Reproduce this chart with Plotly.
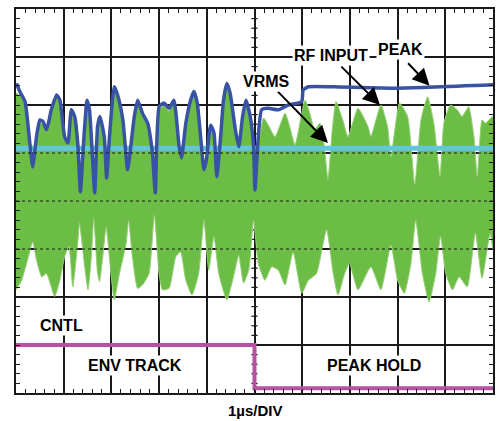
import plotly.graph_objects as go

# time in us (1 us/div), amplitude in divisions
peak_t = [0.01, 0.08, 0.19, 0.29, 0.35, 0.43, 0.50, 0.57, 0.64, 0.74, 0.85, 0.92, 1.02, 1.09,
          1.16, 1.23, 1.30, 1.35, 1.42, 1.49, 1.54, 1.61, 1.65, 1.71, 1.76, 1.85, 1.90, 1.96,
          2.06, 2.13, 2.24, 2.34, 2.39, 2.48, 2.55, 2.65, 2.76, 2.86, 2.92, 3.00, 3.10, 3.21,
          3.31, 3.42, 3.47, 3.56, 3.66, 3.73, 3.80, 3.87, 3.94, 3.99, 4.08, 4.15, 4.21, 4.29,
          4.35, 4.42, 4.49, 4.60, 4.67, 4.75, 4.82, 4.91, 4.98, 5.01, 5.08, 5.15, 5.29, 5.50,
          5.71, 5.99, 6.02, 6.13, 6.65, 8.00, 10.0]
peak_v = [2.45, 2.28, 2.07, 1.21, 0.71, 1.34, 1.69, 1.65, 1.48, 1.90, 2.21, 2.10, 1.34, 1.21,
          1.90, 1.76, 1.13, 0.19, 1.27, 2.10, 1.90, 0.79, 0.17, 1.55, 1.76, 1.34, 0.48, 1.34,
          2.38, 2.21, 1.69, 0.65, 1.00, 1.76, 2.10, 1.83, 1.62, 1.00, 0.17, 1.96, 2.04, 1.93,
          2.10, 1.13, 0.90, 1.62, 2.10, 2.28, 2.04, 1.34, 0.65, 0.85, 1.58, 1.42, 0.51, 1.34,
          2.10, 2.45, 2.24, 1.48, 1.13, 1.76, 2.10, 1.76, 1.13, 0.23, 1.34, 1.90, 1.93, 1.90,
          2.00, 2.07, 2.31, 2.38, 2.38, 2.35, 2.42]

rf_top_t = [0.0, 0.08, 0.19, 0.29, 0.35, 0.43, 0.50, 0.57, 0.64, 0.74, 0.85, 0.92, 1.02, 1.09,
            1.16, 1.23, 1.30, 1.35, 1.42, 1.49, 1.54, 1.61, 1.65, 1.71, 1.76, 1.85, 1.90, 1.96,
            2.06, 2.13, 2.24, 2.34, 2.39, 2.48, 2.55, 2.65, 2.76, 2.86, 2.92, 3.00, 3.10, 3.21,
            3.31, 3.42, 3.47, 3.56, 3.66, 3.73, 3.80, 3.87, 3.94, 3.99, 4.08, 4.15, 4.21, 4.29,
            4.35, 4.42, 4.49, 4.60, 4.67, 4.75, 4.82, 4.91, 4.98, 5.05, 5.19, 5.29, 5.43, 5.64,
            5.73, 5.85, 6.06, 6.17, 6.26, 6.37, 6.46, 6.54, 6.63, 6.71, 6.85, 6.96, 7.17, 7.38,
            7.44, 7.65, 7.79, 7.86, 8.04, 8.21, 8.36, 8.49, 8.63, 8.76, 8.89, 8.97, 9.11, 9.25,
            9.35, 9.49, 9.60, 9.67, 9.77, 9.84, 10.0]
rf_top_v = [2.25, 2.20, 2.00, 1.20, 0.85, 1.30, 1.63, 1.60, 1.43, 1.85, 2.15, 2.04, 1.30, 1.18,
            1.85, 1.70, 1.10, 0.45, 1.22, 2.04, 1.85, 0.85, 0.40, 1.50, 1.70, 1.30, 0.62, 1.30,
            2.30, 2.15, 1.63, 0.72, 1.00, 1.70, 2.04, 1.78, 1.57, 1.00, 0.40, 1.90, 1.98, 1.87,
            2.04, 1.10, 0.92, 1.57, 2.04, 2.22, 1.98, 1.30, 0.72, 0.88, 1.52, 1.37, 0.60, 1.30,
            2.04, 2.35, 2.18, 1.43, 1.10, 1.70, 2.04, 1.70, 1.10, 1.00, 1.73, 1.58, 1.34, 1.83,
            1.58, 1.17, 2.10, 1.79, 1.48, 1.62, 1.17, 0.45, 1.48, 2.07, 1.69, 1.34, 1.93, 1.55,
            1.34, 2.00, 1.55, 0.92, 2.04, 1.76, 0.35, 1.69, 2.17, 1.62, 0.51, 1.62, 2.00, 1.90,
            1.76, 1.96, 1.34, 0.51, 1.69, 1.62, 1.76]

rf_bot_t = [0.0, 0.12, 0.26, 0.35, 0.43, 0.54, 0.64, 0.81, 0.92, 1.02, 1.11, 1.19, 1.30, 1.33,
            1.44, 1.51, 1.58, 1.63, 1.71, 1.75, 1.82, 1.89, 1.99, 2.06, 2.17, 2.31, 2.36, 2.44,
            2.55, 2.65, 2.79, 2.90, 3.00, 3.07, 3.21, 3.35, 3.45, 3.56, 3.69, 3.83, 3.94, 4.04,
            4.15, 4.25, 4.42, 4.56, 4.67, 4.77, 4.88, 4.98, 5.08, 5.22, 5.36, 5.50, 5.64, 5.81,
            5.99, 6.13, 6.30, 6.51, 6.65, 6.75, 6.89, 6.99, 7.17, 7.44, 7.65, 7.86, 8.00, 8.14,
            8.28, 8.38, 8.52, 8.66, 8.80, 8.90, 9.01, 9.15, 9.29, 9.46, 9.63, 9.77, 9.94, 10.0]
rf_bot_v = [-1.85, -1.65, -1.16, -0.85, -1.23, -1.58, -1.51, -1.99, -1.65, -1.16, -0.95, -1.79,
            -0.81, -0.46, -1.37, -1.85, -1.16, -0.36, -1.51, -1.68, -1.16, -0.54, -1.51, -2.06,
            -1.51, -0.88, -0.40, -1.16, -1.82, -1.75, -1.51, -0.29, -1.51, -1.85, -1.82, -1.16,
            -1.06, -1.65, -1.96, -1.51, -0.40, -1.44, -0.74, -1.51, -2.06, -1.58, -1.13, -1.71,
            -1.44, -0.40, -1.30, -1.65, -1.37, -1.44, -1.75, -1.06, -1.92, -1.65, -1.51, -0.60,
            -1.51, -1.96, -1.51, -1.30, -1.85, -1.37, -1.85, -0.92, -1.65, -1.92, -1.30, -0.40,
            -1.51, -2.10, -1.51, -0.74, -1.51, -1.85, -1.58, -1.79, -0.67, -1.61, -0.67, -1.02]

vrms_t = [0.0, 10.0]
vrms_v = [1.10, 1.10]

cntl_t = [0.0, 5.0, 5.0, 10.0]
cntl_v = [-3.0, -3.0, -3.9, -3.9]

GREEN = "rgb(108,189,70)"
BLUE = "rgb(57,83,164)"
CYAN = "rgb(98,198,222)"
MAGENTA = "rgb(181,82,162)"
INK = "#1a1a1a"
FONT = "Liberation Sans, Arial, sans-serif"

fig = go.Figure()

# RF input: filled band between the upper and lower envelope
fig.add_trace(go.Scatter(
    x=rf_top_t + rf_bot_t[::-1],
    y=rf_top_v + rf_bot_v[::-1],
    mode="lines", fill="toself", fillcolor=GREEN,
    line=dict(color="rgb(150,206,118)", width=1, shape="spline", smoothing=0.5),
    hoverinfo="skip"))

fig.add_trace(go.Scatter(x=vrms_t, y=vrms_v, mode="lines",
                         line=dict(color=CYAN, width=5), hoverinfo="skip"))
fig.add_trace(go.Scatter(x=peak_t, y=peak_v, mode="lines",
                         line=dict(color=BLUE, width=3.5, shape="spline", smoothing=0.5),
                         hoverinfo="skip"))
fig.add_trace(go.Scatter(x=cntl_t, y=cntl_v, mode="lines",
                         line=dict(color=MAGENTA, width=4), hoverinfo="skip"))

axis_common = dict(
    showgrid=True, gridcolor=INK, gridwidth=1.5, zeroline=False,
    showline=True, linecolor=INK, linewidth=2, mirror="allticks",
    ticks="inside", ticklen=4, tickwidth=1.2, tickcolor=INK,
    showticklabels=False, fixedrange=True,
    minor=dict(ticks="inside", ticklen=4, tickwidth=1.2, tickcolor=INK, showgrid=False),
)
fig.update_xaxes(range=[0, 10], dtick=1, tick0=0, **axis_common)
fig.update_yaxes(range=[-4, 4], dtick=1, tick0=0, **axis_common)
fig.update_xaxes(minor_dtick=0.2)
fig.update_yaxes(minor_dtick=0.2)

shapes = []
# scope-style ticks on the centre graticule lines
for i in range(1, 50):
    t = round(0.2 * i, 2)
    if abs(t - round(t)) > 1e-6:
        shapes.append(dict(type="line", layer="between", x0=t, x1=t, y0=-0.065, y1=0.065,
                           line=dict(color=INK, width=1.2)))
for i in range(1, 40):
    v = round(-4 + 0.2 * i, 2)
    if abs(v - round(v)) > 1e-6:
        shapes.append(dict(type="line", layer="between", x0=4.935, x1=5.065, y0=v, y1=v,
                           line=dict(color=INK, width=1.2)))
# dotted graticule lines drawn over the RF band
for v in [1, 0, -1]:
    shapes.append(dict(type="line", layer="above", x0=0, x1=10, y0=v, y1=v,
                       line=dict(color=INK, width=1.2, dash="3px,3px")))

annotations = []
# arrows: (head_x, head_y, tail_x, tail_y)
for hx, hy, tx, ty in [(6.54, 1.21, 5.46, 2.31), (7.63, 2.0, 6.79, 2.83), (8.67, 2.40, 8.19, 2.90)]:
    annotations.append(dict(x=hx, y=hy, ax=tx, ay=ty, xref="x", yref="y", axref="x", ayref="y",
                            text="", showarrow=True, arrowhead=2, arrowsize=1.7,
                            arrowwidth=2, arrowcolor="black"))

labels = [("VRMS", 5.25, 2.50), ("RF INPUT", 6.60, 3.04), ("PEAK", 8.06, 3.15),
          ("CNTL", 0.96, -2.60), ("ENV TRACK", 2.50, -3.42), ("PEAK HOLD", 7.50, -3.42)]
for txt, x, y in labels:
    annotations.append(dict(x=x, y=y, xref="x", yref="y", text="<b>" + txt + "</b>",
                            showarrow=False, bgcolor="white", borderpad=1,
                            font=dict(family=FONT, size=16, color="black")))

annotations.append(dict(x=5.03, y=-0.046, xref="x", yref="paper", yanchor="middle",
                        text="<b>1µs/DIV</b>", showarrow=False,
                        font=dict(family=FONT, size=15, color="black")))

fig.update_layout(
    width=496, height=421,
    margin=dict(l=16, r=1, t=9, b=28),
    paper_bgcolor="white", plot_bgcolor="white",
    showlegend=False,
    shapes=shapes, annotations=annotations,
)

# drop the default page margin so the figure fills the window exactly
fig.write_html("out.html", config={"displayModeBar": False},
               post_script="document.body.style.margin='0';"
               "document.body.style.overflow='hidden';")
